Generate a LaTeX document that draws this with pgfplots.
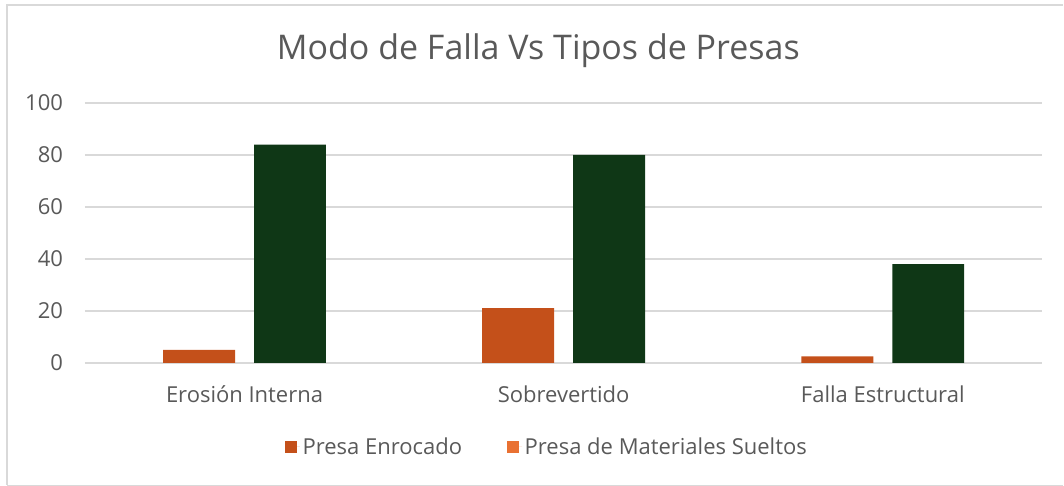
\documentclass[border=0pt]{standalone}
\usepackage{pgfplots}
\pgfplotsset{compat=1.18}
\usepackage{fontspec}
\setmainfont{Open Sans}
\definecolor{txt}{HTML}{595959}
\definecolor{gridc}{HTML}{D9D9D9}
\definecolor{enro}{HTML}{C4501A}
\definecolor{suel}{HTML}{E97132}
\definecolor{verde}{HTML}{0F3716}
\begin{document}
\begin{tikzpicture}
% marco del grafico (1px = 0.75pt)
\path (0,0) rectangle (798pt,364.5pt);
\draw[gridc, line width=1pt] (5.25pt,0.4pt) -- (5.25pt,360.75pt) -- (798pt,360.75pt);
\draw[gridc, line width=0.6pt] (5.25pt,0.4pt) -- (798pt,0.4pt);
\node[font=\fontsize{25.5}{30}\selectfont, text=txt] at (404pt,326.5pt) {Modo de Falla Vs Tipos de Presas};
\begin{axis}[
    at={(63.75pt,92.25pt)}, anchor=south west,
    scale only axis,
    width=718.5pt, height=195pt,
    ybar=14.25pt,
    bar width=54pt,
    xmin=-0.5, xmax=2.5,
    ymin=0, ymax=100,
    xtick={0,1,2},
    xticklabels={Erosión Interna, Sobrevertido, Falla Estructural},
    ytick={0,20,40,60,80,100},
    ymajorgrids=true, xmajorgrids=false,
    major grid style={gridc, line width=1.1pt},
    axis line style={draw=none},
    major tick length=0pt,
    tick label style={font=\fontsize{16.5}{19}\selectfont, text=txt},
    /pgf/number format/assume math mode=true,
    yticklabel style={xshift=-13pt},
    xticklabel style={yshift=-14pt},
    legend style={at={(0.483,-0.323)}, anchor=center, draw=none, fill=none,
        legend columns=2, font=\fontsize{16.5}{19}\selectfont, text=txt,
        /tikz/every even column/.append style={column sep=32pt}},
    legend image code/.code={\fill (0pt,-4.5pt) rectangle (9pt,4.5pt);
        \path (0pt,0pt) -- (11pt,0pt);},
]
% Presa Enrocado
\addplot[fill=enro, draw=none] coordinates {(0,5) (1,21) (2,2.5)};
\addlegendentry{Presa Enrocado}
% Presa de Materiales Sueltos
\addplot[fill=verde, draw=none, legend image post style={fill=suel}] coordinates {(0,84) (1,80) (2,38)};
\addlegendentry{Presa de Materiales Sueltos}
\end{axis}
\end{tikzpicture}
\end{document}
